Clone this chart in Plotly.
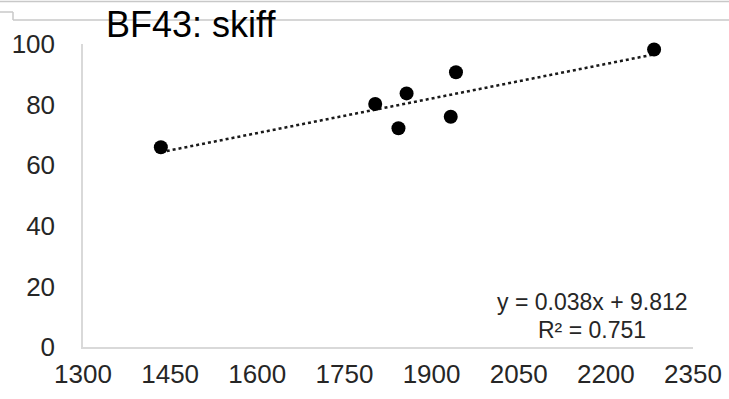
import plotly.graph_objects as go
import numpy as np

# Data
x_vals = [1434, 1803, 1843, 1857, 1933, 1942, 2283]
y_vals = [65.9, 80.2, 72.2, 83.7, 76.0, 90.7, 98.2]
slope = 0.038
intercept = 9.812
r_squared = 0.751
title_text = "BF43: skiff"
x_ticks = [1300, 1450, 1600, 1750, 1900, 2050, 2200, 2350]
y_ticks = [0, 20, 40, 60, 80, 100]

FONT = "Liberation Sans, Arial, sans-serif"

trend_x = [min(x_vals), max(x_vals)]
trend_y = [slope * v + intercept for v in trend_x]

fig = go.Figure()
fig.add_trace(go.Scatter(
    x=trend_x, y=trend_y, mode="lines",
    line=dict(color="#1a1a1a", width=2.5, dash="dot"),
    hoverinfo="skip", showlegend=False,
))
fig.add_trace(go.Scatter(
    x=x_vals, y=y_vals, mode="markers",
    marker=dict(color="black", size=14),
    cliponaxis=False, showlegend=False,
))

W, H = 729, 399
L, R, T, B = 83, 36, 44, 52
pw, ph = W - L - R, H - T - B

def px(xp):
    return (xp - L) / pw

def py(yp):
    return (H - B - yp) / ph

fig.update_layout(
    width=W, height=H,
    margin=dict(l=L, r=R, t=T, b=B, pad=0),
    paper_bgcolor="white", plot_bgcolor="white",
    font=dict(family=FONT, color="#262626"),
    xaxis=dict(
        range=[x_ticks[0], x_ticks[-1]], tickmode="array", tickvals=x_ticks,
        ticktext=[str(t) for t in x_ticks], automargin=False,
        showgrid=False, zeroline=False, showline=True, linecolor="#d9d9d9", linewidth=1.5,
        ticks="", tickfont=dict(size=26, family=FONT, color="#262626"),
        ticklabelstandoff=3,
    ),
    yaxis=dict(
        range=[y_ticks[0], y_ticks[-1]], tickmode="array", tickvals=y_ticks,
        ticktext=[str(t) for t in y_ticks], automargin=False,
        showgrid=False, zeroline=False, showline=True, linecolor="#d9d9d9", linewidth=1.5,
        ticks="", tickfont=dict(size=26, family=FONT, color="#262626"),
        ticklabelstandoff=21,
    ),
    shapes=[
        dict(type="line", xref="paper", yref="paper", x0=px(0), x1=px(W), y0=py(1.5), y1=py(1.5),
             line=dict(color="#c8c8c8", width=1.5)),
        dict(type="line", xref="paper", yref="paper", x0=px(0), x1=px(13), y0=py(12), y1=py(12),
             line=dict(color="#c8c8c8", width=1.5)),
        dict(type="line", xref="paper", yref="paper", x0=px(13), x1=px(13), y0=py(12), y1=py(20),
             line=dict(color="#c8c8c8", width=1.5)),
        dict(type="line", xref="paper", yref="paper", x0=px(13), x1=px(W), y0=py(20), y1=py(20),
             line=dict(color="#c8c8c8", width=1.5)),
    ],
    annotations=[
        dict(text=title_text, xref="paper", yref="paper", x=px(104), y=py(24),
             xanchor="left", yanchor="middle", showarrow=False,
             font=dict(size=36, family=FONT, color="black")),
        dict(text=f"y = {slope:.3f}x + {intercept:.3f}", xref="paper", yref="paper",
             x=px(592), y=py(302), xanchor="center", yanchor="middle", showarrow=False,
             font=dict(size=23, family=FONT, color="#262626")),
        dict(text=f"R² = {r_squared:.3f}", xref="paper", yref="paper",
             x=px(592), y=py(330), xanchor="center", yanchor="middle", showarrow=False,
             font=dict(size=23, family=FONT, color="#262626")),
    ],
)

fig.write_html("out.html")
